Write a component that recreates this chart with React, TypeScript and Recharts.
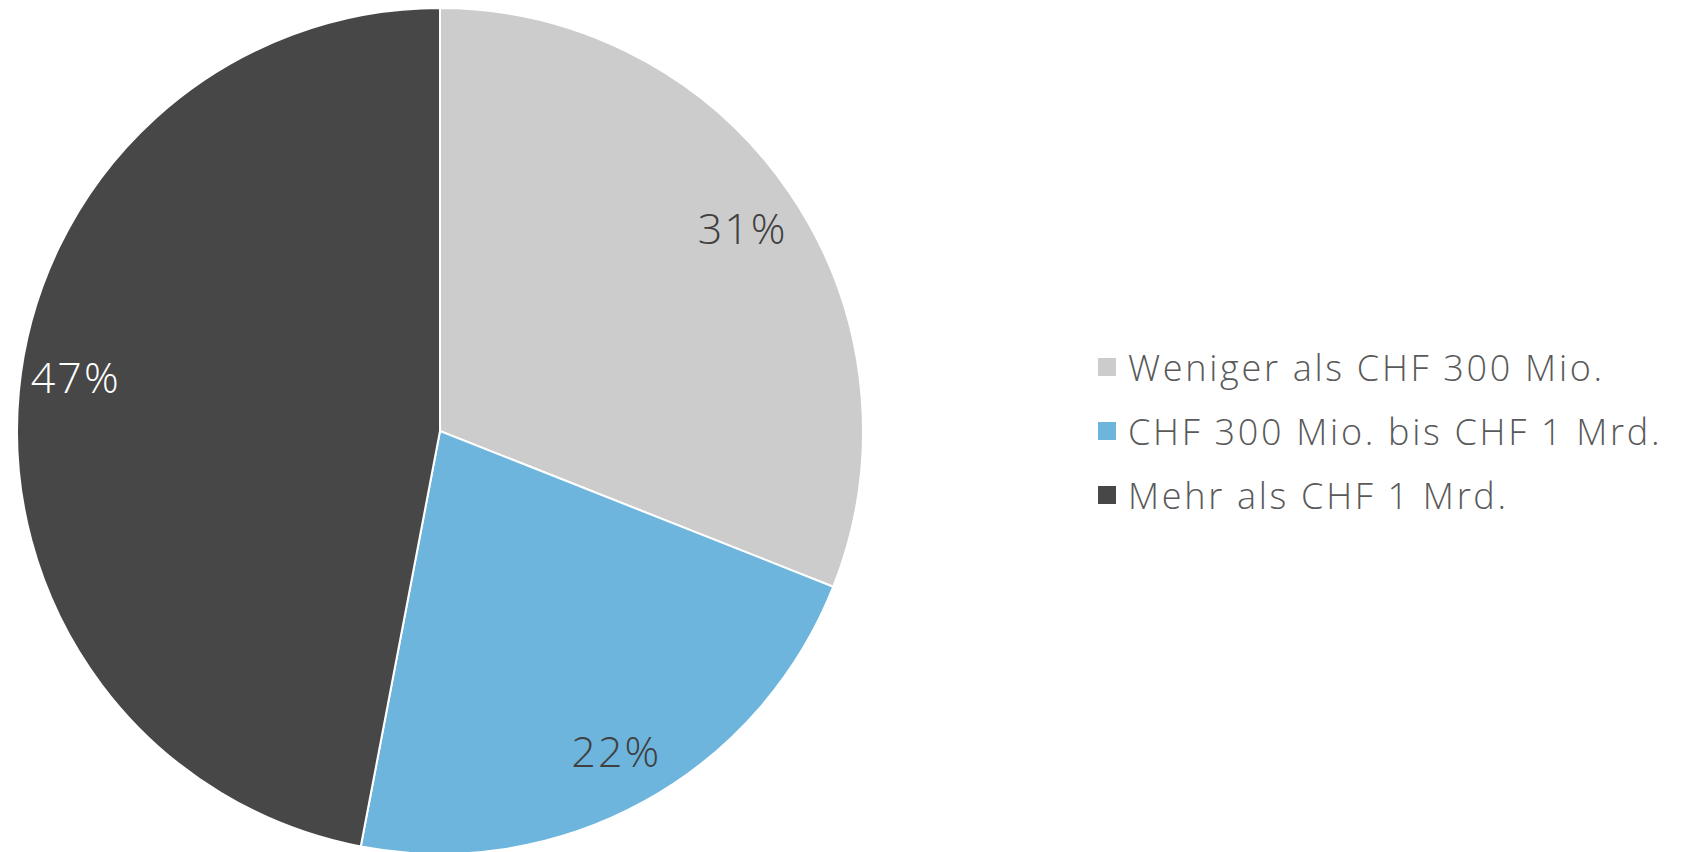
import { PieChart, Pie, Cell } from "recharts";

const categories = [
  "Weniger als CHF 300 Mio.",
  "CHF 300 Mio. bis CHF 1 Mrd.",
  "Mehr als CHF 1 Mrd.",
];
const shares = [31, 22, 47];

const COLORS = ["#cccccc", "#6eb5de", "#474747"];
const LABEL_COLORS = ["#404040", "#404040", "#ffffff"];
// Excel's "best fit" moved the big slice's label up a little
const LABEL_DY = [2, -1, -20];
const FONT = "'Open Sans', 'Noto Sans', sans-serif";

const data = categories.map((name, i) => ({ name, value: shares[i] }));

const RAD = Math.PI / 180;

function renderLabel(props: any) {
  const { cx, cy, midAngle, outerRadius, index, value } = props;
  const r = outerRadius * 0.865;
  const x = cx + r * Math.cos(-midAngle * RAD);
  const y = cy + r * Math.sin(-midAngle * RAD) + LABEL_DY[index];
  return (
    <text
      x={x}
      y={y}
      fill={LABEL_COLORS[index]}
      textAnchor="middle"
      dominantBaseline="central"
      fontFamily={FONT}
      fontWeight={300}
      fontSize={43}
      letterSpacing={2}
    >
      {value}%
    </text>
  );
}

function ChartLegend() {
  return (
    <div style={{ position: "absolute", left: 1098, top: 335, fontFamily: FONT }}>
      {data.map((item, i) => (
        <div
          key={item.name}
          style={{ display: "flex", alignItems: "center", height: 64 }}
        >
          <div
            style={{
              width: 18,
              height: 18,
              background: COLORS[i],
              marginRight: 12,
            }}
          />
          <span
            style={{
              fontSize: 36,
              fontWeight: 300,
              letterSpacing: 2.7,
              color: "#595959",
              whiteSpace: "nowrap",
            }}
          >
            {item.name}
          </span>
        </div>
      ))}
    </div>
  );
}

export default function App() {
  return (
    <div style={{ position: "absolute", left: 0, top: 0, width: 1685, height: 852, background: "#fff" }}>
      <PieChart width={1685} height={852} margin={{ top: 0, right: 0, bottom: 0, left: 0 }}>
        <Pie
          data={data}
          dataKey="value"
          nameKey="name"
          cx={440}
          cy={431}
          outerRadius={423}
          startAngle={90}
          endAngle={-270}
          stroke="#ffffff"
          strokeWidth={2}
          label={renderLabel}
          labelLine={false}
          isAnimationActive={false}
        >
          {data.map((_, i) => (
            <Cell key={i} fill={COLORS[i]} />
          ))}
        </Pie>
      </PieChart>
      <ChartLegend />
    </div>
  );
}
